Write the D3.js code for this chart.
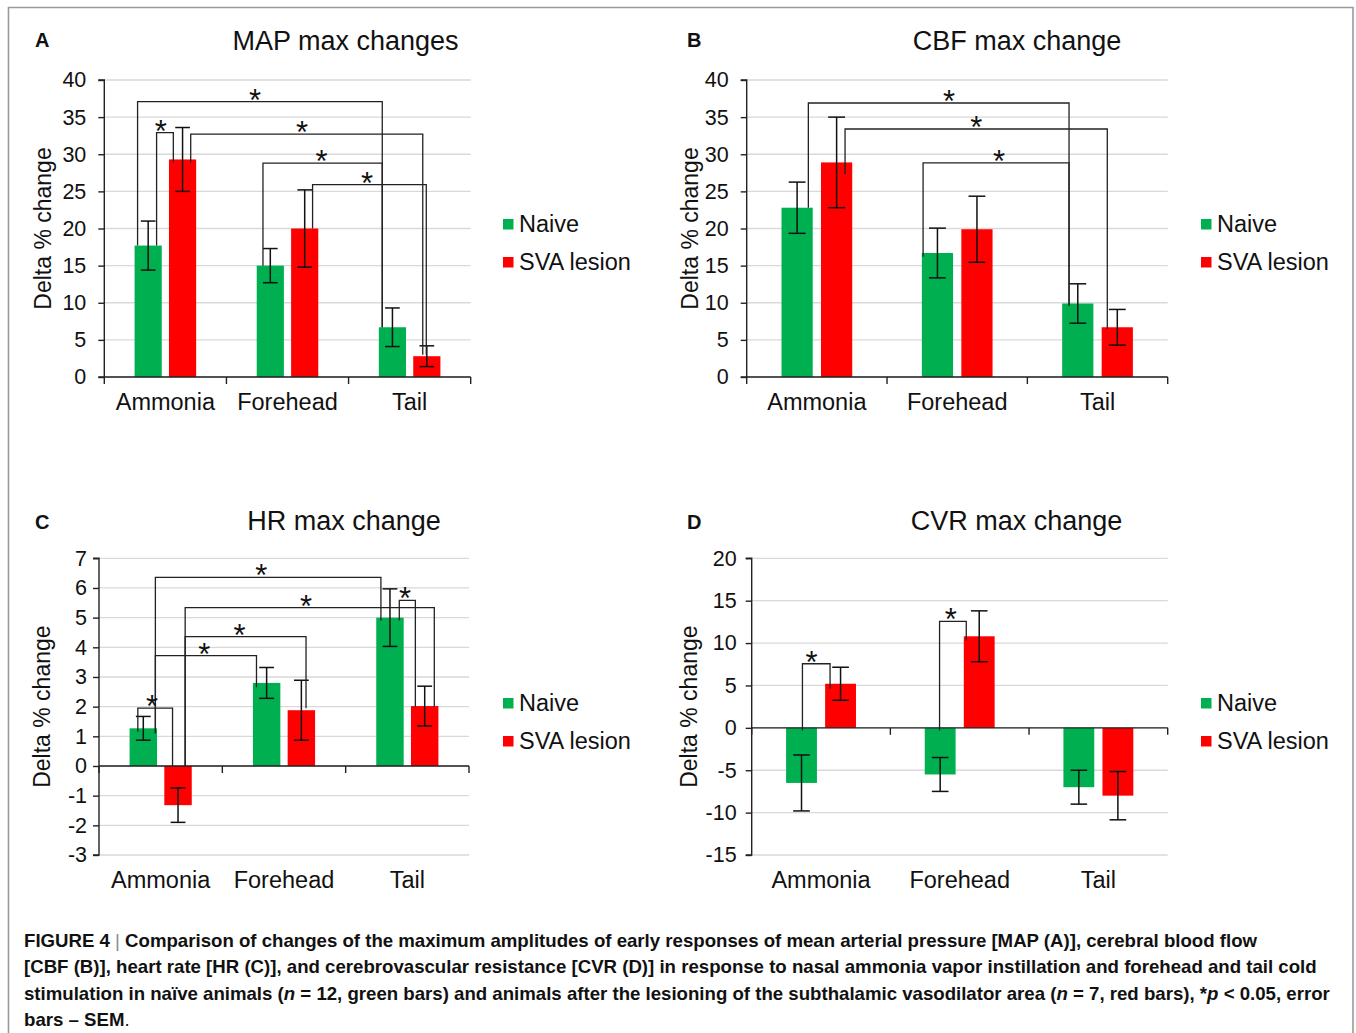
<!DOCTYPE html>
<html>
<head>
<meta charset="utf-8">
<script src="https://cdn.jsdelivr.net/npm/d3@7/dist/d3.min.js"></script>
<style>
  html, body { margin: 0; padding: 0; background: #fff; }
  svg { display: block; }
  text { font-family: Arial, "Liberation Sans", sans-serif; fill: #111; }
</style>
</head>
<body>
<svg id="fig" width="1356" height="1033"></svg>
<script>
// ---------------- DATA ----------------
const categories = ["Ammonia", "Forehead", "Tail"];
const seriesNames = ["Naive", "SVA lesion"];
const seriesColors = ["#00b050", "#ff0000"];

// MAP (A)
const mapTicks = [0, 5, 10, 15, 20, 25, 30, 35, 40];
const mapNaive = [17.7, 15.0, 6.7];
const mapNaiveErr = [3.3, 2.3, 2.6];
const mapSva = [29.3, 20.0, 2.8];
const mapSvaErr = [4.3, 5.2, 1.4];
// [leftCat, leftSeries, leftFrac, leftEnd, rightCat, rightSeries, rightFrac, rightEnd, level, starT]
const mapBrackets = [
  [0, 0, 0.11, 17.7, 2, 0, 0.125, 6.7, 37.1, 0.48],
  [0, 0, 0.81, 17.7, 0, 1, 0.16, 28.9, 32.9, 0.25],
  [0, 1, 0.80, 28.9, 2, 1, 0.35, 3.0, 32.7, 0.48],
  [1, 0, 0.23, 15.0, 2, 0, 0.125, 6.7, 28.8, 0.49],
  [1, 1, 0.79, 20.0, 2, 1, 0.48, 3.0, 25.9, 0.48]
];

// CBF (B)
const cbfTicks = [0, 5, 10, 15, 20, 25, 30, 35, 40];
const cbfNaive = [22.8, 16.7, 9.9];
const cbfNaiveErr = [3.45, 3.35, 2.65];
const cbfSva = [28.9, 19.9, 6.7];
const cbfSvaErr = [6.1, 4.45, 2.4];
const cbfBrackets = [
  [0, 0, 0.86, 22.8, 2, 0, 0.22, 9.6, 36.9, 0.54],
  [0, 1, 0.77, 27.3, 2, 1, 0.18, 6.5, 33.4, 0.50],
  [1, 0, 0.04, 16.2, 2, 0, 0.22, 9.6, 28.85, 0.52]
];

// HR (C)
const hrTicks = [-3, -2, -1, 0, 1, 2, 3, 4, 5, 6, 7];
const hrNaive = [1.27, 2.8, 5.0];
const hrNaiveErr = [0.4, 0.52, 0.97];
const hrSva = [-1.32, 1.88, 2.02];
const hrSvaErr = [0.58, 1.01, 0.67];
const hrBrackets = [
  [0, 0, 0.94, 1.1, 2, 0, 0.17, 4.9, 6.36, 0.47],
  [0, 1, 0.76, 0.0, 2, 1, 0.85, 2.0, 5.34, 0.485],
  [0, 1, 0.76, 0.0, 1, 1, 0.67, 1.95, 4.36, 0.45],
  [0, 0, 0.94, 1.1, 1, 0, 0.13, 2.65, 3.72, 0.485],
  [0, 0, 0.30, 1.15, 0, 1, 0.30, 0.0, 1.95, 0.41],
  [2, 0, 0.84, 4.9, 2, 1, 0.16, 2.0, 5.58, 0.36]
];

// CVR (D)
const cvrTicks = [-15, -10, -5, 0, 5, 10, 15, 20];
const cvrNaive = [-6.5, -5.5, -7.0];
const cvrNaiveErr = [3.3, 2.0, 2.0];
const cvrSva = [5.2, 10.8, -8.0];
const cvrSvaErr = [1.95, 3.0, 2.85];
const cvrBrackets = [
  [0, 0, 0.53, -0.3, 0, 1, 0.16, 4.6, 7.56, 0.33],
  [1, 0, 0.48, -0.3, 1, 1, 0.08, 10.3, 12.56, 0.42]
];

// ---------------- LAYOUT ----------------
const panels = [
  { letter: "A", title: "MAP max changes", x0: 104.3, x1: 470.7, yTop: 80, yBot: 377,
    domain: [0, 40], ticks: mapTicks, vals: [mapNaive, mapSva], errs: [mapNaiveErr, mapSvaErr],
    brackets: mapBrackets, letterX: 35, letterY: 46.5, titleX: 345.5, titleY: 50,
    legendX: 503, legendY: 219, ylabelX: 51, tickPad: 12 },
  { letter: "B", title: "CBF max change", x0: 746.7, x1: 1167.7, yTop: 80, yBot: 377,
    domain: [0, 40], ticks: cbfTicks, vals: [cbfNaive, cbfSva], errs: [cbfNaiveErr, cbfSvaErr],
    brackets: cbfBrackets, letterX: 687, letterY: 46.5, titleX: 1017, titleY: 50,
    legendX: 1201, legendY: 219, ylabelX: 698, tickPad: 12 },
  { letter: "C", title: "HR max change", x0: 99, x1: 469, yTop: 558.3, yBot: 855,
    domain: [-3, 7], ticks: hrTicks, vals: [hrNaive, hrSva], errs: [hrNaiveErr, hrSvaErr],
    brackets: hrBrackets, letterX: 35, letterY: 529, titleX: 344, titleY: 529.5,
    legendX: 503, legendY: 698, ylabelX: 50, tickPad: 6 },
  { letter: "D", title: "CVR max change", x0: 751.7, x1: 1167.7, yTop: 558.3, yBot: 855,
    domain: [-15, 20], ticks: cvrTicks, vals: [cvrNaive, cvrSva], errs: [cvrNaiveErr, cvrSvaErr],
    brackets: cvrBrackets, letterX: 687, letterY: 529, titleX: 1016.5, titleY: 529.5,
    legendX: 1201, legendY: 698, ylabelX: 697, tickPad: 9 }
];

const svg = d3.select("#fig");

// figure border (left, top, right)
svg.append("path")
  .attr("d", "M8.5,1033 V7.5 H1353 V1033")
  .attr("fill", "none").attr("stroke", "#9a9a9a").attr("stroke-width", 1.6);

function drawPanel(p) {
  const g = svg.append("g");
  const y = d3.scaleLinear().domain(p.domain).range([p.yBot, p.yTop]);
  const x = d3.scaleBand().domain(d3.range(categories.length)).range([p.x0, p.x1]).padding(0);
  const bw = x.bandwidth();
  const xs = d3.scaleBand().domain(d3.range(seriesNames.length))
    .range([0.248 * bw, 0.752 * bw]).paddingInner(0.21).paddingOuter(0);
  const barW = xs.bandwidth();
  const barX = (c, s) => x(c) + xs(s);

  // gridlines
  g.append("g").selectAll("line").data(p.ticks).join("line")
    .attr("x1", p.x0).attr("x2", p.x1)
    .attr("y1", d => y(d)).attr("y2", d => y(d))
    .attr("stroke", "#d9d9d9").attr("stroke-width", 1.3);

  // bars
  seriesNames.forEach((s, si) => {
    g.append("g").selectAll("rect").data(p.vals[si]).join("rect")
      .attr("x", (d, ci) => barX(ci, si))
      .attr("width", barW)
      .attr("y", d => Math.min(y(d), y(0)))
      .attr("height", d => Math.abs(y(d) - y(0)))
      .attr("fill", seriesColors[si]);
  });

  // y axis
  const yAxis = d3.axisLeft(y).tickValues(p.ticks).tickSize(6).tickPadding(p.tickPad)
    .tickFormat(d => String(d));
  const ya = g.append("g").attr("transform", `translate(${p.x0},0)`).call(yAxis);
  ya.select(".domain").attr("stroke", "#222").attr("stroke-width", 1.4)
    .attr("d", `M-6,${y(p.domain[0])}H0V${y(p.domain[1])}H-6`);
  ya.selectAll(".tick line").attr("stroke", "#222").attr("stroke-width", 1.4);
  ya.selectAll(".tick text").attr("font-size", 21.5).attr("fill", "#222")
    .attr("font-family", "Arial, 'Liberation Sans', sans-serif");

  // x axis at zero
  const xa = g.append("g").attr("transform", `translate(0,${y(0)})`);
  xa.append("line").attr("x1", p.x0).attr("x2", p.x1).attr("y1", 0).attr("y2", 0)
    .attr("stroke", "#222").attr("stroke-width", 1.4);
  const bounds = categories.map((c, i) => x(i)).concat([p.x1]);
  xa.selectAll("line.tk").data(bounds).join("line").attr("class", "tk")
    .attr("x1", d => d).attr("x2", d => d).attr("y1", 0).attr("y2", 7)
    .attr("stroke", "#222").attr("stroke-width", 1.4);

  // category labels
  g.append("g").selectAll("text").data(categories).join("text")
    .attr("x", (d, i) => x(i) + bw / 2)
    .attr("y", p.yBot + 33)
    .attr("text-anchor", "middle").attr("font-size", 23.5).attr("fill", "#222")
    .text(d => d);

  // error bars
  seriesNames.forEach((s, si) => {
    const eg = g.append("g").attr("stroke", "#111").attr("stroke-width", 1.5);
    p.vals[si].forEach((v, ci) => {
      const cx = barX(ci, si) + barW / 2;
      const e = p.errs[si][ci];
      const cap = barW * 0.27;
      eg.append("line").attr("x1", cx).attr("x2", cx).attr("y1", y(v - e)).attr("y2", y(v + e));
      eg.append("line").attr("x1", cx - cap).attr("x2", cx + cap).attr("y1", y(v + e)).attr("y2", y(v + e));
      eg.append("line").attr("x1", cx - cap).attr("x2", cx + cap).attr("y1", y(v - e)).attr("y2", y(v - e));
    });
  });

  // significance brackets
  const bg = g.append("g");
  p.brackets.forEach(b => {
    const [lc, ls, lf, le, rc, rs, rf, re, lvl, t] = b;
    const xl = barX(lc, ls) + lf * barW;
    const xr = barX(rc, rs) + rf * barW;
    bg.append("path")
      .attr("d", `M${xl},${y(le)}V${y(lvl)}H${xr}V${y(re)}`)
      .attr("fill", "none").attr("stroke", "#222").attr("stroke-width", 1.3);
    bg.append("text")
      .attr("x", xl + t * (xr - xl)).attr("y", y(lvl) + 9)
      .attr("text-anchor", "middle").attr("font-size", 31).attr("fill", "#111")
      .text("*");
  });

  // y label
  g.append("text")
    .attr("transform", `translate(${p.ylabelX},${(p.yTop + p.yBot) / 2}) rotate(-90)`)
    .attr("text-anchor", "middle").attr("font-size", 23).attr("fill", "#222")
    .attr("xml:space", "preserve")
    .text("Delta % change");

  // title
  g.append("text").attr("x", p.titleX).attr("y", p.titleY)
    .attr("text-anchor", "middle").attr("font-size", 27).attr("fill", "#222")
    .text(p.title);

  // panel letter
  g.append("text").attr("x", p.letterX).attr("y", p.letterY)
    .attr("font-size", 20).attr("font-weight", "bold").attr("fill", "#000")
    .text(p.letter);

  // legend
  const lg = g.append("g");
  seriesNames.forEach((s, si) => {
    lg.append("rect").attr("x", p.legendX).attr("y", p.legendY + si * 38)
      .attr("width", 10.5).attr("height", 10.5).attr("fill", seriesColors[si]);
    lg.append("text").attr("x", p.legendX + 16).attr("y", p.legendY + 12.5 + si * 38)
      .attr("font-size", 23.5).attr("fill", "#222").text(s);
  });
}

panels.forEach(drawPanel);

// ---------------- CAPTION ----------------
const captionLines = [
  [["FIGURE 4 ", ""], ["|", "sep"], [" Comparison of changes of the maximum amplitudes of early responses of mean arterial pressure [MAP (A)], cerebral blood flow", ""]],
  [["[CBF (B)], heart rate [HR (C)], and cerebrovascular resistance [CVR (D)] in response to nasal ammonia vapor instillation and forehead and tail cold", ""]],
  [["stimulation in naïve animals (", ""], ["n", "it"], [" = 12, green bars) and animals after the lesioning of the subthalamic vasodilator area (", ""], ["n", "it"], [" = 7, red bars), *", ""], ["p", "it"], [" < 0.05, error", ""]],
  [["bars – SEM", ""], [".", "norm"]]
];
const captionWidths = [1234, 1289, 1311, null];
const cap = svg.append("g");
let fsz = null;
captionLines.forEach((line, li) => {
  const t = cap.append("text").attr("x", 24).attr("y", 946.5 + li * 26.5)
    .attr("font-size", 16.5).attr("font-weight", "bold").attr("fill", "#1a1a1a")
    .attr("xml:space", "preserve");
  line.forEach(([str, kind]) => {
    const ts = t.append("tspan").text(str);
    if (kind === "it") ts.attr("font-style", "italic");
    if (kind === "sep") ts.attr("font-weight", "normal").attr("fill", "#888");
    if (kind === "norm") ts.attr("font-weight", "normal");
  });
  if (li === 0) {
    const w = t.node().getComputedTextLength();
    fsz = 16.5 * captionWidths[0] / w;
  }
});
cap.selectAll("text").attr("font-size", fsz);
</script>
</body>
</html>
